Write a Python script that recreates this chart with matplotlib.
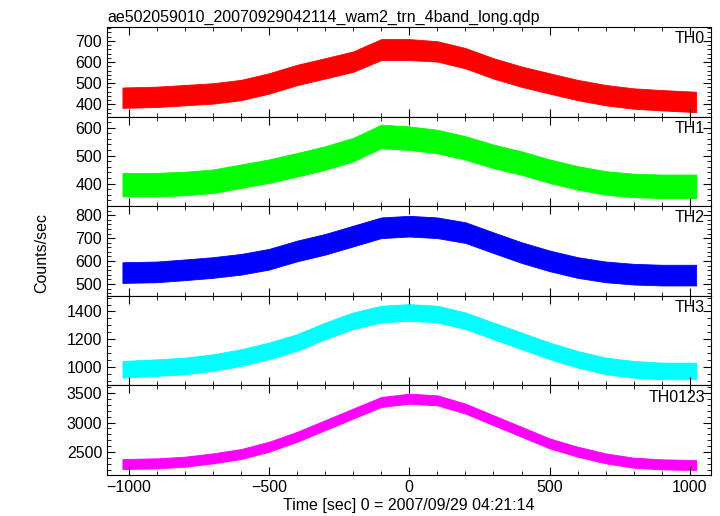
import matplotlib
matplotlib.use("Agg")
from matplotlib import pyplot as plt
from matplotlib.ticker import MultipleLocator

plt.rcParams['font.family'] = ['Liberation Sans', 'DejaVu Sans']

# time grid (sec), band edges
t = [-1022, -900, -800, -700, -600, -500, -400, -300, -200, -100, 0,
     100, 200, 300, 400, 500, 600, 700, 800, 900, 1022]

th0_hi = [480, 484, 492, 500, 516, 547, 587, 618, 650, 708, 708, 698, 666, 618, 579, 547, 516, 492, 476, 468, 460]
th0_lo = [384, 388, 396, 404, 420, 451, 491, 522, 554, 609, 609, 602, 570, 522, 483, 451, 420, 396, 380, 372, 364]

th1_hi = [438, 438, 442, 450, 468, 486, 509, 533, 563, 610, 604, 592, 569, 539, 515, 486, 462, 444, 435, 432, 432]
th1_lo = [354, 354, 358, 366, 384, 402, 425, 449, 479, 526, 520, 508, 485, 455, 431, 402, 378, 360, 351, 348, 348]

th2_hi = [595, 598, 607, 617, 631, 653, 689, 718, 754, 790, 797, 790, 769, 725, 682, 646, 617, 598, 588, 584, 584]
th2_lo = [505, 508, 517, 527, 541, 563, 599, 628, 664, 700, 707, 700, 679, 635, 592, 556, 527, 508, 498, 494, 494]

th3_hi = [1043, 1055, 1067, 1091, 1127, 1176, 1236, 1320, 1393, 1441, 1453, 1441, 1393, 1320, 1248, 1176, 1115, 1067, 1043, 1031, 1031]
th3_lo = [923, 935, 947, 971, 1007, 1056, 1116, 1200, 1273, 1321, 1333, 1321, 1273, 1200, 1128, 1056, 995, 947, 923, 911, 911]

all_hi = [2383, 2394, 2422, 2478, 2551, 2675, 2843, 3040, 3237, 3433, 3489, 3461, 3321, 3124, 2928, 2731, 2591, 2478, 2405, 2377, 2366]
all_lo = [2213, 2224, 2252, 2308, 2381, 2505, 2673, 2870, 3067, 3263, 3319, 3291, 3151, 2954, 2758, 2561, 2421, 2308, 2235, 2207, 2196]

names = ['TH0', 'TH1', 'TH2', 'TH3', 'TH0123']
colors = ['#ff0000', '#00ff00', '#0000ff', '#00ffff', '#ff00ff']
his = [th0_hi, th1_hi, th2_hi, th3_hi, all_hi]
los = [th0_lo, th1_lo, th2_lo, th3_lo, all_lo]
ylims = [(343, 765), (319, 639), (449, 839), (867, 1513), (2112, 3629)]
majors = [100, 100, 100, 200, 500]
minors = [20, 20, 20, 50, 100]

fig = plt.figure(figsize=(7.2, 5.16), dpi=100)
gs = fig.add_gridspec(5, 1, left=0.1486, right=0.9875, top=0.9477, bottom=0.0795, hspace=0)

for i in range(5):
    ax = fig.add_subplot(gs[i])
    ax.fill_between(t, los[i], his[i], color=colors[i], lw=0.6)
    ax.set_xlim(-1077, 1075)
    ax.set_ylim(*ylims[i])
    ax.xaxis.set_major_locator(MultipleLocator(500))
    ax.xaxis.set_minor_locator(MultipleLocator(100))
    ax.yaxis.set_major_locator(MultipleLocator(majors[i]))
    ax.yaxis.set_minor_locator(MultipleLocator(minors[i]))
    ax.tick_params(which='both', direction='in', top=True, right=True, labelsize=11.5)
    ax.tick_params(which='major', length=6)
    ax.tick_params(which='minor', length=3)
    ax.text(0.99, 0.87, names[i], transform=ax.transAxes, ha='right', va='center', fontsize=11.5)
    if i < 4:
        ax.tick_params(labelbottom=False)
    else:
        ax.set_xlabel('Time [sec] 0 = 2007/09/29 04:21:14', fontsize=11.5, labelpad=2)
    if i == 0:
        ax.set_title('ae502059010_20070929042114_wam2_trn_4band_long.qdp', loc='left', fontsize=11.5, pad=4)

fig.text(0.058, 0.51, 'Counts/sec', rotation=90, ha='center', va='center', fontsize=11.5)

plt.savefig('out.png', dpi=100)
